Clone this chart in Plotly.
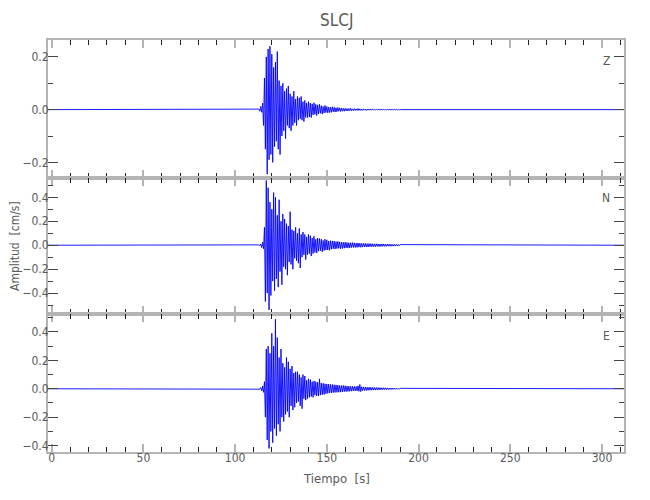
import numpy as np
import plotly.graph_objects as go
from plotly.subplots import make_subplots

# ---------------- data ----------------
station = "SLCJ"
components = ["Z", "N", "E"]
record_start = -2.0
record_end = 312.0
t0 = 112.5          # first sample of the active window [s]
dt = 0.5            # sample spacing of the read-off peaks [s]

z_vals = [0.000, 0.002, -0.006, 0.012, -0.010, 0.025, -0.06, 0.12, -0.15, 0.20,
          -0.245, 0.23, -0.19, 0.24, -0.17, 0.21, -0.20, 0.16, -0.14, 0.18,
          -0.12, 0.22, -0.15, 0.11, -0.17, 0.09, -0.10, 0.10, -0.08, 0.07,
          -0.11, 0.08, -0.06, 0.09, -0.07, 0.06, -0.08, 0.05, -0.06, 0.07,
          -0.05, 0.04, -0.06, 0.05, -0.04, 0.045, -0.035, 0.05, -0.04, 0.03,
          -0.045, 0.035, -0.03, 0.025, -0.03, 0.03,
          -0.028, 0.025, -0.03, 0.022, -0.02, 0.026, -0.018, 0.02, -0.022, 0.018,
          -0.016, 0.02, -0.014, 0.015, -0.017, 0.012, -0.013, 0.016, -0.011, 0.012,
          -0.012, 0.01, -0.011, 0.009, -0.01, 0.011, -0.008, 0.009, -0.009, 0.007,
          -0.008, 0.008, -0.006, 0.007, -0.007, 0.006, -0.006, 0.005, -0.006, 0.005,
          -0.005, 0.004, -0.005, 0.004, -0.004, 0.005, -0.004, 0.003, -0.004, 0.004,
          -0.003, 0.003, -0.003, 0.004, -0.003, 0.003, -0.003, 0.002, -0.003, 0.003,
          -0.002, 0.002, -0.003, 0.002, -0.002, 0.002, -0.002, 0.002, -0.002, 0.002,
          -0.0015, 0.002, -0.0015, 0.0015, -0.0015, 0.0015, -0.001, 0.0015, -0.001, 0.001,
          -0.001, 0.001, -0.001, 0.001, -0.001, 0.001, -0.001, 0.001, -0.001, 0.001,
          -0.001, 0.001, -0.001, 0.001, -0.001, 0.001, -0.001, 0.001, -0.001, 0.0]

n_vals = [0.000, 0.003, -0.004, 0.01, -0.02, 0.025, -0.03, 0.15, -0.47, 0.54,
          -0.40, 0.48, -0.54, 0.36, -0.42, 0.30, -0.30, 0.44, -0.38, 0.40,
          -0.28, 0.25, -0.35, 0.38, -0.22, 0.20, -0.33, 0.26, -0.18, 0.22,
          -0.20, 0.18, -0.25, 0.16, -0.14, 0.28, -0.16, 0.13, -0.20, 0.12,
          -0.11, 0.15, -0.13, 0.10, -0.15, 0.14, -0.19, 0.09, -0.10, 0.11,
          -0.08, 0.09, -0.12, 0.07, -0.08, 0.09,
          -0.07, 0.08, -0.09, 0.06, -0.07, 0.075, -0.06, 0.05, -0.065, 0.06,
          -0.05, 0.055, -0.045, 0.05, -0.055, 0.04, -0.045, 0.05, -0.04, 0.045,
          -0.04, 0.035, -0.042, 0.038, -0.033, 0.036, -0.03, 0.034, -0.032, 0.03,
          -0.028, 0.032, -0.026, 0.028, -0.03, 0.025, -0.027, 0.024, -0.025, 0.026,
          -0.022, 0.023, -0.024, 0.02, -0.022, 0.021, -0.019, 0.022, -0.018, 0.02,
          -0.019, 0.017, -0.018, 0.019, -0.016, 0.017, -0.017, 0.015, -0.016, 0.016,
          -0.014, 0.015, -0.015, 0.013, -0.014, 0.014, -0.012, 0.013, -0.013, 0.012,
          -0.012, 0.011, -0.012, 0.012, -0.01, 0.011, -0.011, 0.01, -0.01, 0.011,
          -0.009, 0.01, -0.01, 0.009, -0.009, 0.009, -0.008, 0.009, -0.008, 0.008,
          -0.008, 0.007, -0.007, 0.007, -0.007, 0.006, -0.006, 0.006, -0.005, 0.005]

e_vals = [0.000, 0.002, -0.003, 0.008, -0.015, 0.02, -0.025, 0.05, -0.20, 0.28,
          -0.36, 0.30, -0.42, 0.25, -0.30, 0.39, -0.38, 0.30, -0.28, 0.49,
          -0.33, 0.36, -0.25, 0.22, -0.30, 0.28, -0.20, 0.18, -0.23, 0.15,
          -0.18, 0.22, -0.16, 0.19, -0.20, 0.14, -0.12, 0.16, -0.15, 0.11,
          -0.13, 0.12, -0.10, 0.12, -0.09, 0.10, -0.12, 0.08, -0.14, 0.10,
          -0.07, 0.09, -0.08, 0.06, -0.07, 0.07,
          -0.06, 0.065, -0.055, 0.05, -0.06, 0.055, -0.045, 0.05, -0.05, 0.045,
          -0.05, 0.07, -0.045, 0.04, -0.042, 0.038, -0.04, 0.035, -0.036, 0.034,
          -0.032, 0.033, -0.03, 0.031, -0.029, 0.03, -0.027, 0.028, -0.026, 0.027,
          -0.025, 0.026, -0.024, 0.023, -0.024, 0.022, -0.022, 0.023, -0.02, 0.021,
          -0.02, 0.019, -0.019, 0.018, -0.018, 0.017, -0.017, 0.018, -0.016, 0.016,
          -0.015, 0.016, -0.015, 0.02, -0.018, 0.03, -0.02, 0.014, -0.013, 0.013,
          -0.012, 0.012, -0.012, 0.011, -0.011, 0.011, -0.01, 0.01, -0.01, 0.01,
          -0.009, 0.009, -0.009, 0.009, -0.008, 0.008, -0.008, 0.008, -0.007, 0.007,
          -0.007, 0.007, -0.006, 0.007, -0.006, 0.006, -0.006, 0.005, -0.005, 0.005,
          -0.005, 0.005, -0.004, 0.004, -0.004, 0.004, -0.004, 0.003, -0.003, 0.003]

y_ranges = [[-0.258, 0.264], [-0.577, 0.564], [-0.445, 0.524]]
x_range = [-2.0, 312.0]
x_tick_vals = [0, 50, 100, 150, 200, 250, 300]
y_tick_vals = [[-0.2, 0.0, 0.2], [-0.4, -0.2, 0.0, 0.2, 0.4], [-0.4, -0.2, 0.0, 0.2, 0.4]]

# ---------------- figure ----------------
FONT = "DejaVu Sans Condensed, Liberation Sans Narrow, sans-serif"
TXT = "#5a5a5a"
AX = "#b4b4b4"
PAGE_OFFSET = 8  # default body margin of the html page

fig = make_subplots(rows=3, cols=1, shared_xaxes=True, vertical_spacing=0.0)

series = [z_vals, n_vals, e_vals]
for i, vals in enumerate(series):
    t = t0 + dt * np.arange(len(vals))
    x = np.concatenate([[record_start], t, [record_end]])
    y = np.concatenate([[0.0], np.array(vals, dtype=float), [0.0]])
    fig.add_trace(go.Scatter(x=x, y=y, mode="lines",
                             line=dict(color="#0000ff", width=0.9),
                             showlegend=False, hoverinfo="skip"),
                  row=i + 1, col=1)

for i in range(3):
    fig.update_xaxes(range=x_range, tickvals=x_tick_vals,
                     showticklabels=(i == 2), automargin=False,
                     ticklabelstandoff=-6,
                     ticks="inside", ticklen=8, tickwidth=1.5, tickcolor=AX,
                     minor=dict(dtick=10, ticks="inside", ticklen=5, tickwidth=1,
                                tickcolor="#222222", showgrid=False),
                     showline=True, linecolor=AX, linewidth=2, mirror="ticks",
                     showgrid=False, zeroline=False,
                     tickfont=dict(family=FONT, size=12, color=TXT),
                     row=i + 1, col=1)
    fig.update_yaxes(range=y_ranges[i], tickvals=y_tick_vals[i], tickformat=".1f",
                     automargin=False, ticklabelstandoff=-5,
                     ticks="inside", ticklen=10, tickwidth=1, tickcolor="#444444",
                     minor=dict(dtick=0.1, ticks="inside", ticklen=5, tickwidth=1,
                                tickcolor="#444444", showgrid=False),
                     showline=True, linecolor=AX, linewidth=2, mirror="ticks",
                     showgrid=False, zeroline=False,
                     tickfont=dict(family=FONT, size=12, color=TXT),
                     row=i + 1, col=1)

# Panel domains (equal heights, touching)
fig.update_layout(
    yaxis=dict(domain=[0.6658, 1.0]),
    yaxis2=dict(domain=[0.3342, 0.6658]),
    yaxis3=dict(domain=[0.0, 0.3342]),
)

annotations = [
    dict(text=station, x=0.5, xref="paper", y=1.0, yref="paper", yshift=20,
         showarrow=False, font=dict(family=FONT, size=17, color=TXT),
         xanchor="center", yanchor="middle"),
    dict(text="Tiempo  [s]", x=0.5, xref="paper", y=0, yref="paper", yshift=-26,
         showarrow=False, font=dict(family=FONT, size=13, color=TXT),
         xanchor="center", yanchor="middle"),
    dict(text="Amplitud  [cm/s]", x=0, xref="paper", xshift=-33, y=0.5, yref="paper",
         textangle=-90, showarrow=False, font=dict(family=FONT, size=12, color=TXT),
         xanchor="center", yanchor="middle"),
]
label_y = [0.845, 0.85, 0.845]
for i, comp in enumerate(components):
    yref = "y domain" if i == 0 else f"y{i + 1} domain"
    xref = "x domain" if i == 0 else f"x{i + 1} domain"
    annotations.append(dict(text=comp, x=0.969, xref=xref, y=label_y[i], yref=yref,
                            showarrow=False, xanchor="center", yanchor="middle",
                            font=dict(family=FONT, size=12, color=TXT)))

fig.update_layout(
    width=650 - PAGE_OFFSET, height=500 - PAGE_OFFSET,
    margin=dict(l=48 - PAGE_OFFSET, r=26, t=40 - PAGE_OFFSET, b=56 - PAGE_OFFSET),
    paper_bgcolor="white", plot_bgcolor="white",
    annotations=annotations,
)

fig.write_html("out.html")
